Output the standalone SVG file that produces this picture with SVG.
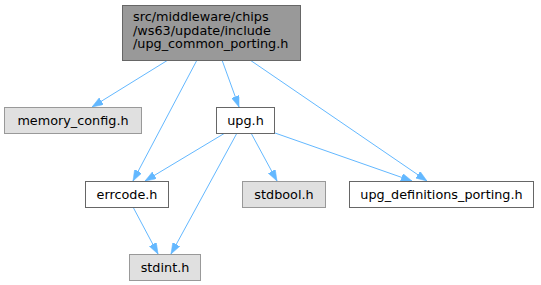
<svg xmlns="http://www.w3.org/2000/svg" width="541" height="285" viewBox="0 0 541 285">
<defs>
<marker id="arr" viewBox="0 0 11 8" refX="11" refY="4" markerWidth="11" markerHeight="8" orient="auto" markerUnits="userSpaceOnUse">
<path d="M0,0 L11,4 L0,8 z" fill="#63b8ff" stroke="#63b8ff" stroke-width="0.5"/>
</marker>
</defs>
<style>
text{font-family:"DejaVu Sans",sans-serif;font-size:12.8px;fill:#000}
.c{text-anchor:middle}
.main{fill:#999999;stroke:#666666;stroke-width:1}
.ext{fill:#e0e0e0;stroke:#999999;stroke-width:1}
.int{fill:#ffffff;stroke:#666666;stroke-width:1}
#edges line{stroke:#63b8ff;stroke-width:1;marker-end:url(#arr)}
</style>
<rect width="541" height="285" fill="#ffffff"/>
<g id="edges">
<line x1="168" y1="60" x2="92" y2="107"/>
<line x1="197" y1="60" x2="133" y2="181"/>
<line x1="222" y1="60" x2="239" y2="107"/>
<line x1="250" y1="60" x2="427" y2="181"/>
<line x1="225" y1="133" x2="145" y2="181"/>
<line x1="237" y1="133" x2="171" y2="254"/>
<line x1="251" y1="133" x2="277" y2="181"/>
<line x1="275" y1="133" x2="412" y2="181"/>
<line x1="133" y1="207" x2="158" y2="254"/>
</g>
<g id="node_main">
<rect class="main" x="122.5" y="5.5" width="178" height="55"/>
<text x="133" y="21">src/middleware/chips</text>
<text x="133" y="34.5">/ws63/update/include</text>
<text x="133" y="48">/upg_common_porting.h</text>
</g>
<g id="node_memory_config">
<rect class="ext" x="4.5" y="107.5" width="137" height="26"/>
<text class="c" x="73" y="124.5">memory_config.h</text>
</g>
<g id="node_upg">
<rect class="int" x="216.5" y="107.5" width="58" height="26"/>
<text class="c" x="245.5" y="124.5">upg.h</text>
</g>
<g id="node_errcode">
<rect class="int" x="85.5" y="181.5" width="83" height="26"/>
<text class="c" x="127" y="198.5">errcode.h</text>
</g>
<g id="node_stdbool">
<rect class="ext" x="242.5" y="181.5" width="83" height="26"/>
<text class="c" x="284" y="198.5">stdbool.h</text>
</g>
<g id="node_upg_definitions_porting">
<rect class="int" x="349.5" y="181.5" width="184" height="26"/>
<text class="c" x="441.5" y="198.5">upg_definitions_porting.h</text>
</g>
<g id="node_stdint">
<rect class="ext" x="129.5" y="254.5" width="71" height="26"/>
<text class="c" x="165" y="271.5">stdint.h</text>
</g>
</svg>
